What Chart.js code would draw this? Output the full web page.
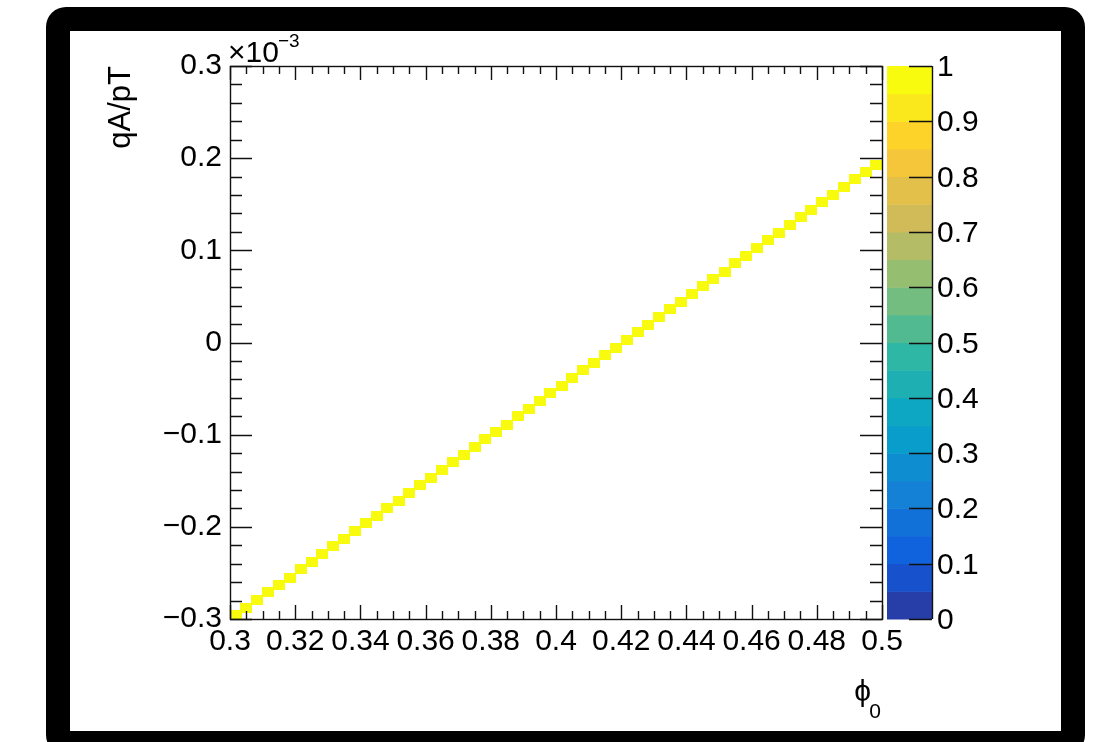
<!DOCTYPE html>
<html>
<head>
<meta charset="utf-8">
<script src="https://cdn.jsdelivr.net/npm/chart.js@4.4.1/dist/chart.umd.min.js"></script>
<style>
  html, body { margin: 0; padding: 0; background: #fff; overflow: hidden; }
  .frame {
    position: absolute; left: 46px; top: 7px;
    width: 991px; height: 700px;
    border: 24px solid #000; border-radius: 20px;
    background: #fff;
  }
  #wrap { position: absolute; left: 0; top: 0; width: 1111px; height: 742px; }
</style>
</head>
<body>
<div class="frame"></div>
<div id="wrap"><canvas id="histo" width="1111" height="742"></canvas></div>
<script>
// phi0 bin centres and filled qA/pT bins (in units of 1e-3)
const phi0 = [0.3017, 0.3050, 0.3083, 0.3117, 0.3150, 0.3183, 0.3217, 0.3250, 0.3283, 0.3317,
  0.3350, 0.3383, 0.3417, 0.3450, 0.3483, 0.3517, 0.3550, 0.3583, 0.3617, 0.3650,
  0.3683, 0.3717, 0.3750, 0.3783, 0.3817, 0.3850, 0.3883, 0.3917, 0.3950, 0.3983,
  0.4017, 0.4050, 0.4083, 0.4117, 0.4150, 0.4183, 0.4217, 0.4250, 0.4283, 0.4317,
  0.4350, 0.4383, 0.4417, 0.4450, 0.4483, 0.4517, 0.4550, 0.4583, 0.4617, 0.4650,
  0.4683, 0.4717, 0.4750, 0.4783, 0.4817, 0.4850, 0.4883, 0.4917, 0.4950, 0.4983];
const qApT = [-0.296, -0.288, -0.279, -0.271, -0.263, -0.255, -0.246, -0.238, -0.230, -0.221,
  -0.213, -0.205, -0.196, -0.188, -0.180, -0.172, -0.163, -0.155, -0.147, -0.138,
  -0.130, -0.122, -0.113, -0.105, -0.097, -0.089, -0.080, -0.072, -0.064, -0.055,
  -0.047, -0.039, -0.030, -0.022, -0.014, -0.006, 0.003, 0.011, 0.019, 0.028,
  0.036, 0.044, 0.053, 0.061, 0.069, 0.077, 0.086, 0.094, 0.102, 0.111,
  0.119, 0.127, 0.136, 0.144, 0.152, 0.160, 0.169, 0.177, 0.185, 0.193];
const content = 1;

const xTicks = [0.3, 0.32, 0.34, 0.36, 0.38, 0.4, 0.42, 0.44, 0.46, 0.48, 0.5];
const yTicks = [-0.3, -0.2, -0.1, 0, 0.1, 0.2, 0.3];
const zTicks = [0, 0.1, 0.2, 0.3, 0.4, 0.5, 0.6, 0.7, 0.8, 0.9, 1];

const FONT = "'Liberation Sans', Arial, Helvetica, sans-serif";

// ROOT kBird palette
const birdStops = [0, 0.125, 0.25, 0.375, 0.5, 0.625, 0.75, 0.875, 1];
const birdR = [0.2082, 0.0592, 0.0780, 0.0232, 0.1802, 0.5301, 0.8186, 0.9956, 0.9764];
const birdG = [0.1664, 0.3599, 0.5041, 0.6419, 0.7178, 0.7492, 0.7328, 0.7862, 0.9832];
const birdB = [0.5293, 0.8684, 0.8385, 0.7914, 0.6425, 0.4662, 0.3499, 0.1968, 0.0539];
function bird(t) {
  let i = 0;
  while (i < birdStops.length - 2 && t > birdStops[i + 1]) i++;
  const f = (t - birdStops[i]) / (birdStops[i + 1] - birdStops[i]);
  const c = (a) => Math.round(255 * (a[i] + (a[i + 1] - a[i]) * f));
  return `rgb(${c(birdR)},${c(birdG)},${c(birdB)})`;
}
const nLevels = 20;
const levelColors = [];
for (let k = 0; k < nLevels; k++) {
  levelColors.push(bird(Math.floor((k + 0.99) * 255 / nLevels) / 254));
}

// cell image for the bins
const cell = document.createElement("canvas");
cell.width = 12; cell.height = 10;
const cctx = cell.getContext("2d");
cctx.fillStyle = levelColors[Math.min(nLevels - 1, Math.floor(content * nLevels))];
cctx.fillRect(0, 0, 12, 10);

function fmtSigned(v) {
  const r = Math.round(v * 100) / 100;
  if (r === 0) return "0";
  return r < 0 ? "\u2212" + String(-r) : String(r);
}

const rootAxes = {
  id: "rootAxes",
  afterDatasetsDraw(chart) {
    const { ctx, chartArea: a, scales } = chart;
    const x = scales.x, y = scales.y;
    ctx.save();
    ctx.strokeStyle = "#111";
    ctx.lineWidth = 1.4;
    ctx.beginPath();
    // x ticks (bottom and top), minor every 0.005
    for (let i = 0; i <= 40; i++) {
      const px = Math.round(x.getPixelForValue(0.3 + i * 0.005)) + 0.5;
      const len = i % 4 === 0 ? 14 : 8;
      ctx.moveTo(px, a.bottom); ctx.lineTo(px, a.bottom - len);
      ctx.moveTo(px, a.top); ctx.lineTo(px, a.top + len);
    }
    // y ticks (left and right), minor every 0.02
    for (let i = 0; i <= 30; i++) {
      const py = Math.round(y.getPixelForValue(-0.3 + i * 0.02)) + 0.5;
      const len = i % 5 === 0 ? 22 : 12;
      ctx.moveTo(a.left, py); ctx.lineTo(a.left + len, py);
      ctx.moveTo(a.right, py); ctx.lineTo(a.right - len, py);
    }
    ctx.stroke();
    ctx.strokeRect(Math.round(a.left) + 0.5, Math.round(a.top) + 0.5,
      Math.round(a.right - a.left), Math.round(a.bottom - a.top));

    // colour bar
    const cbL = a.right + 5, cbR = a.right + 50;
    const h = (a.bottom - a.top) / nLevels;
    for (let k = 0; k < nLevels; k++) {
      ctx.fillStyle = levelColors[k];
      ctx.fillRect(cbL, a.bottom - (k + 1) * h, cbR - cbL, h + 0.5);
    }
    ctx.beginPath();
    ctx.moveTo(cbR + 0.5, a.top); ctx.lineTo(cbR + 0.5, a.bottom);
    ctx.fillStyle = "#000";
    ctx.font = `30px ${FONT}`;
    ctx.textAlign = "left";
    ctx.textBaseline = "middle";
    zTicks.forEach((z) => {
      const py = Math.round(a.bottom - z * (a.bottom - a.top)) + 0.5;
      ctx.moveTo(cbR - 23, py); ctx.lineTo(cbR, py);
      ctx.fillText(String(z), cbR + 5, py + 1);
    });
    ctx.stroke();

    // exponent of y axis
    ctx.textBaseline = "alphabetic";
    ctx.fillText("\u00d710", a.left - 2, 62);
    ctx.font = `19px ${FONT}`;
    ctx.fillText("\u22123", a.left + 48, 47);

    // axis titles
    ctx.font = `30px ${FONT}`;
    ctx.textAlign = "right";
    ctx.fillText("\u03d5", 871, 701);
    ctx.font = `21px ${FONT}`;
    ctx.fillText("0", 881, 718);
    ctx.save();
    ctx.translate(130, 66);
    ctx.rotate(-Math.PI / 2);
    ctx.font = `31px ${FONT}`;
    ctx.fillText("qA/pT", 0, 0);
    ctx.restore();
    ctx.restore();
  }
};

new Chart(document.getElementById("histo"), {
  type: "scatter",
  data: {
    datasets: [{
      data: phi0.map((p, i) => ({ x: p, y: qApT[i] })),
      pointStyle: cell,
      pointRadius: 5,
    }],
  },
  options: {
    responsive: false,
    animation: false,
    events: [],
    layout: { padding: { left: 0, top: 66, right: 229, bottom: 0 } },
    plugins: { legend: { display: false }, tooltip: { enabled: false } },
    scales: {
      x: {
        type: "linear", min: 0.3, max: 0.5,
        grid: { display: false, drawTicks: false },
        border: { display: false },
        ticks: {
          stepSize: 0.02, autoSkip: false, maxRotation: 0, padding: 5,
          color: "#000", font: { family: FONT, size: 30 },
          callback: (v) => fmtSigned(v),
        },
        afterFit: (s) => { s.height = 123; },
      },
      y: {
        type: "linear", min: -0.3, max: 0.3,
        grid: { display: false, drawTicks: false },
        border: { display: false },
        ticks: {
          stepSize: 0.1, padding: 8,
          color: "#000", font: { family: FONT, size: 30 },
          callback: (v) => fmtSigned(v),
        },
        afterFit: (s) => { s.width = 230; },
      },
    },
  },
  plugins: [rootAxes],
});
</script>
</body>
</html>
